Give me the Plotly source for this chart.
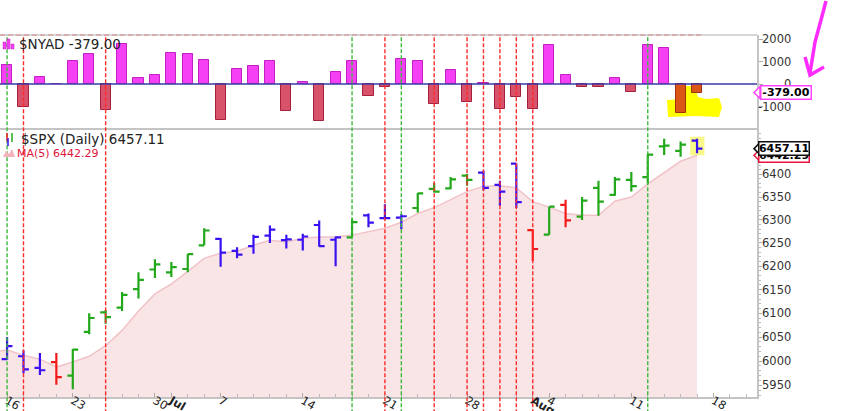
import math
import plotly.graph_objects as go

# ---------------- data ----------------
dates = ["Jun 16", "Jun 17", "Jun 18", "Jun 20", "Jun 23", "Jun 24", "Jun 25", "Jun 26", "Jun 27", "Jun 30",
         "Jul 1", "Jul 2", "Jul 3", "Jul 7", "Jul 8", "Jul 9", "Jul 10", "Jul 11", "Jul 14", "Jul 15",
         "Jul 16", "Jul 17", "Jul 18", "Jul 21", "Jul 22", "Jul 23", "Jul 24", "Jul 25", "Jul 28", "Jul 29",
         "Jul 30", "Jul 31", "Aug 1", "Aug 4", "Aug 5", "Aug 6", "Aug 7", "Aug 8", "Aug 11", "Aug 12",
         "Aug 13", "Aug 14", "Aug 15"]

opens = [6004, 6010, 5986, 5998, 5970, 6061, 6102, 6112, 6151, 6193,
         6187, 6194, 6245, 6259, 6233, 6243, 6266, 6256, 6257, 6289,
         6257, 6262, 6310, 6304, 6305, 6326, 6368, 6369, 6397, 6404,
         6377, 6424, 6278, 6268, 6333, 6307, 6370, 6355, 6388, 6394,
         6462, 6452, 6475]
highs = [6050, 6022, 6017, 6017, 6025, 6100, 6107, 6145, 6187, 6215,
         6209, 6226, 6282, 6261, 6241, 6268, 6288, 6268, 6270, 6299,
         6264, 6303, 6314, 6334, 6313, 6359, 6381, 6394, 6401, 6408,
         6386, 6424, 6280, 6329, 6344, 6350, 6386, 6394, 6405, 6445,
         6479, 6473, 6479]
lows = [6003, 5975, 5971, 5951, 5942, 6056, 6078, 6105, 6131, 6175,
        6177, 6187, 6245, 6199, 6217, 6227, 6250, 6238, 6234, 6242,
        6200, 6262, 6284, 6301, 6280, 6316, 6360, 6367, 6375, 6365,
        6331, 6326, 6211, 6268, 6284, 6300, 6309, 6353, 6362, 6380,
        6443, 6439, 6447]
closes = [6031, 5983, 5981, 5967, 6024, 6090, 6092, 6139, 6171, 6204,
          6198, 6226, 6277, 6229, 6225, 6263, 6279, 6258, 6264, 6243,
          6262, 6295, 6294, 6304, 6308, 6358, 6362, 6389, 6388, 6370,
          6362, 6339, 6237, 6329, 6299, 6342, 6340, 6389, 6374, 6444,
          6464, 6466, 6457.11]
# bar colour class: G = green, B = blue, R = red
bar_class = ["B", "B", "B", "R", "G", "G", "G", "G", "G", "G",
             "G", "G", "G", "B", "B", "B", "B", "B", "B", "B",
             "B", "G", "B", "B", "B", "G", "G", "G", "G", "B",
             "B", "B", "R", "G", "R", "G", "G", "G", "G", "G",
             "G", "G", "B"]

# MA(5), starting one session earlier (Jun 13)
ma_dates = ["Jun 13"] + dates
ma5 = [6018, 6023, 6012, 6004, 5988, 5998, 6010, 6032, 6064, 6105,
       6141, 6162, 6189, 6217, 6228, 6232, 6245, 6256, 6252, 6260,
       6263, 6263, 6267, 6274, 6282, 6295, 6314, 6327, 6345, 6362,
       6374, 6375, 6370, 6340, 6328, 6314, 6310, 6310, 6341, 6350,
       6379, 6403, 6429, 6442.29]

# $NYAD daily advance-decline
nyad = [840, -1035, 315, 0, 1020, 1350, -1155, 1800, 270, 390,
        1395, 1350, 1065, -1605, 675, 795, 1020, -1200, 110, -1635,
        555, 1005, -525, -135, 1110, 1005, -870, 615, -810, 60,
        -1095, -585, -1095, 1740, 390, -135, -135, 270, -360, 1740,
        1620, -1305, -379]

# x tick labels (session index -> label); 43 = Aug 18
xtick_pos = [0, 4, 9, 10, 13, 18, 23, 28, 32, 33, 38, 43]
xtick_text = ["16", "23", "30", "<b>Jul</b>", "7", "14", "21", "28", "<b>Aug</b>", "4", "11", "18"]

spx_ticks = [5950, 6000, 6050, 6100, 6150, 6200, 6250, 6300, 6350, 6400]
nyad_ticks = [2000, 1000, 0, -1000]

# signal lines (session index)
green_signals = [0, 21, 24, 39]
red_signals = [1, 6, 23, 26, 28, 29, 30, 31, 32]

# ---------------- geometry helpers ----------------
PL, PR, PT, PB = 0, 757, 35, 397
W, H = PR - PL, PB - PT


def px(x):
    return (x - PL) / W


def py(y):
    return (PB - y) / H


split = py(129.5)
SPX_RANGE = [math.log10(5926), math.log10(6500)]
NYAD_RANGE = [-2022, 2178]


def spx_paper(v):
    return split * (math.log10(v) - SPX_RANGE[0]) / (SPX_RANGE[1] - SPX_RANGE[0])


xs = list(range(len(dates)))
ma_x = list(range(-1, len(dates)))

COL = {"G": "#22a81a", "B": "#3a12f2", "R": "#f41a1a"}

fig = go.Figure()

# NYAD bars
fills, edges = [], []
for i, v in enumerate(nyad):
    if i >= len(nyad) - 2:
        fills.append("#db5614"); edges.append("#a3300e")
    elif v >= 0:
        fills.append("#f640f6"); edges.append("#c11fc1")
    else:
        fills.append("#d8526a"); edges.append("#a4213d")
fig.add_trace(go.Bar(x=xs, y=nyad, xaxis="x", yaxis="y", width=0.62,
                     marker=dict(color=fills, line=dict(color=edges, width=1)),
                     showlegend=False, hoverinfo="skip"))

# MA(5) area
fig.add_trace(go.Scatter(x=ma_x, y=ma5, xaxis="x", yaxis="y2", mode="lines",
                         line=dict(color="#f1c3c8", width=1.5),
                         fill="tozeroy", fillcolor="#f9e5e5",
                         showlegend=False, hoverinfo="skip"))

# OHLC bars, one trace per colour class (on an overlaying axis so they sit above the area)
for cls in ["G", "B", "R"]:
    idx = [i for i in xs if bar_class[i] == cls]
    fig.add_trace(go.Ohlc(
        x=[xs[i] for i in idx],
        open=[opens[i] for i in idx], high=[highs[i] for i in idx],
        low=[lows[i] for i in idx], close=[closes[i] for i in idx],
        xaxis="x", yaxis="y3", tickwidth=0.33,
        line=dict(width=2.2),
        increasing=dict(line=dict(color=COL[cls])),
        decreasing=dict(line=dict(color=COL[cls])),
        showlegend=False, hoverinfo="skip"))

shapes = []
# highlight under the last price bar
last = len(dates) - 1
shapes.append(dict(type="rect", xref="x", yref="paper", layer="below",
                   x0=last - 0.42, x1=last + 0.45,
                   y0=spx_paper(lows[last]) - 0.006, y1=spx_paper(highs[last]) + 0.006,
                   fillcolor="#f9f98a", line=dict(width=0)))
# hand-drawn yellow highlighter in the NYAD pane
blob = [(667, 100), (683, 99), (685, 86), (695, 86), (698, 97), (706, 99), (719, 98),
        (722, 107), (719, 117), (696, 116), (668, 117)]
shapes.append(dict(type="path", xref="paper", yref="paper", layer="below",
                   path="M " + " L ".join(f"{px(a):.5f},{py(b):.5f}" for a, b in blob) + " Z",
                   fillcolor="#ffff00", line=dict(width=0)))

# zero line of NYAD
shapes.append(dict(type="line", xref="paper", yref="y", x0=0, x1=1, y0=0, y1=0,
                   line=dict(color="#3a3aa8", width=1.5)))
# top border of NYAD pane
shapes.append(dict(type="line", xref="paper", yref="paper", x0=0, x1=1, y0=1, y1=1,
                   line=dict(color="#c8c8c8", width=1.5)))
shapes.append(dict(type="line", xref="paper", yref="paper", x0=0, x1=px(703), y0=1, y1=1,
                   line=dict(color="#d9a2a2", width=1.5, dash="5px,3px")))

# signal lines
for s in green_signals:
    shapes.append(dict(type="line", xref="x", yref="paper", x0=s, x1=s, y0=-0.045, y1=1,
                       line=dict(color="#3cb83c", width=1.4, dash="4px,2px")))
for s in red_signals:
    shapes.append(dict(type="line", xref="x", yref="paper", x0=s, x1=s, y0=-0.045, y1=1,
                       line=dict(color="#ff2a2a", width=1.4, dash="4px,2px")))


# price-tag pointers
def pointer(yref, yanchor, color):
    return dict(type="path", xref="paper", yref=yref, xsizemode="pixel", ysizemode="pixel",
                xanchor=1, yanchor=yanchor, path="M -3,0 L 3,6 L 3,-6 Z",
                fillcolor="white", line=dict(color=color, width=1.5))


shapes.append(pointer("y", nyad[-1], "#ff44ff"))
shapes.append(pointer("paper", spx_paper(ma5[-1]), "#e0143c"))
shapes.append(pointer("paper", spx_paper(closes[-1]), "#111111"))


# legend icons
def rect(x0, y0, x1, y1, color):
    return dict(type="rect", xref="paper", yref="paper", x0=px(x0), x1=px(x1), y0=py(y1), y1=py(y0),
                fillcolor=color, line=dict(color="#c11fc1", width=0.5))


shapes += [rect(3, 42, 6, 49, "#f640f6"), rect(7, 39, 10, 49, "#f640f6"), rect(11, 44, 14, 49, "#f640f6")]
for (x0, ya, yb, c) in [(7, 133, 141, "#f41a1a"), (8, 138, 146, "#3a12f2"), (12, 133, 142, "#22a81a")]:
    shapes.append(dict(type="line", xref="paper", yref="paper", x0=px(x0), x1=px(x0), y0=py(ya), y1=py(yb),
                       line=dict(color=c, width=1.5)))
mtn = [(3, 157), (6, 151), (9, 154), (12, 149), (15, 157)]
shapes.append(dict(type="path", xref="paper", yref="paper",
                   path="M " + " L ".join(f"{px(a):.5f},{py(b):.5f}" for a, b in mtn) + " Z",
                   fillcolor="#f3b3bd", line=dict(width=0)))

# hand-drawn magenta arrow
arrow1 = [(826, 1), (821, 20), (815, 42), (810, 73)]
arrow2 = [(805, 57), (810, 75), (824, 67)]
for pts in (arrow1, arrow2):
    shapes.append(dict(type="path", xref="paper", yref="paper",
                       path="M " + " L ".join(f"{px(a):.5f},{py(b):.5f}" for a, b in pts),
                       line=dict(color="#ff2cff", width=3.5)))

annotations = []
HDR = "DejaVu Sans"
AX = "DejaVu Sans"
annotations.append(dict(xref="paper", yref="paper", x=px(17), y=py(44), xanchor="left", yanchor="middle",
                        text=f"$NYAD {nyad[-1]:.2f}", showarrow=False,
                        font=dict(family=HDR, size=13.5, color="#222")))
annotations.append(dict(xref="paper", yref="paper", x=px(19), y=py(139), xanchor="left", yanchor="middle",
                        text=f"$SPX (Daily) {closes[-1]:.2f}", showarrow=False,
                        font=dict(family=HDR, size=13.5, color="#222")))
annotations.append(dict(xref="paper", yref="paper", x=px(15), y=py(153), xanchor="left", yanchor="middle",
                        text=f"MA(5) {ma5[-1]:.2f}", showarrow=False,
                        font=dict(family=HDR, size=11, color="#e0143c")))

# NYAD axis labels (right-aligned)
for t in nyad_ticks:
    annotations.append(dict(xref="paper", yref="y", x=px(793), y=t, xanchor="right", yanchor="middle",
                            text=str(t), showarrow=False, font=dict(family=AX, size=11.5, color="#333")))


# price tags
def tag(yref, y, text, color, xc):
    return dict(xref="paper", yref=yref, x=px(xc), y=y, xanchor="center", yanchor="middle",
                text=f"<b>{text}</b>", showarrow=False, bgcolor="white", bordercolor=color,
                borderwidth=1.5, borderpad=0, width=49, height=12,
                font=dict(family=AX, size=11, color="#000"))


annotations.append(tag("y", nyad[-1], f"{nyad[-1]:.2f}", "#ff44ff", 786))
annotations.append(tag("paper", spx_paper(ma5[-1]), f"{ma5[-1]:.2f}", "#e0143c", 784))
annotations.append(tag("paper", spx_paper(closes[-1]), f"{closes[-1]:.2f}", "#111111", 784))

fig.update_layout(
    width=851, height=411,
    margin=dict(l=PL, r=851 - PR, t=PT, b=411 - PB, autoexpand=False),
    paper_bgcolor="white", plot_bgcolor="rgba(0,0,0,0)",
    showlegend=False, bargap=0,
    font=dict(family=AX, size=11.5, color="#333"),
    xaxis=dict(domain=[0, 1], anchor="y2", range=[-0.43, 45.65], automargin=False,
               tickmode="array", tickvals=xtick_pos, ticktext=xtick_text,
               ticks="inside", ticklen=4, tickcolor="#aaa", ticklabelstandoff=-9,
               minor=dict(dtick=1, tick0=0, ticks="inside", ticklen=3, tickcolor="#bbb"),
               showline=True, linecolor="#c4c4c4", linewidth=1.5, mirror=True,
               showgrid=False, zeroline=False, rangeslider=dict(visible=False),
               tickfont=dict(family=AX, size=11.5, color="#222")),
    yaxis=dict(domain=[split, 1], anchor="x", range=NYAD_RANGE, side="right", automargin=False,
               tickmode="array", tickvals=nyad_ticks, showticklabels=False,
               ticks="outside", ticklen=4, tickcolor="#aaa",
               showline=True, linecolor="#c4c4c4", linewidth=1.5, mirror=True,
               showgrid=False, zeroline=False),
    yaxis2=dict(domain=[0, split], anchor="x", type="log", range=SPX_RANGE, side="right", automargin=False,
                tickmode="array", tickvals=spx_ticks, ticktext=[str(t) for t in spx_ticks],
                ticks="outside", ticklen=3, tickcolor="#aaa", ticklabelstandoff=-2,
                minor=dict(tickvals=list(range(5930, 6500, 10)), ticks="outside", ticklen=2, tickcolor="#bbb"),
                showline=True, linecolor="#c4c4c4", linewidth=1.5, mirror=True,
                showgrid=False, zeroline=False,
                tickfont=dict(family=AX, size=11.5, color="#333")),
    yaxis3=dict(overlaying="y2", anchor="x", type="log", range=SPX_RANGE, side="right",
                visible=False, automargin=False, showgrid=False, zeroline=False),
    shapes=shapes, annotations=annotations,
)

fig.write_html("out.html", config={"displayModeBar": False},
               post_script="document.body.style.margin='0';document.body.style.overflow='hidden';")
